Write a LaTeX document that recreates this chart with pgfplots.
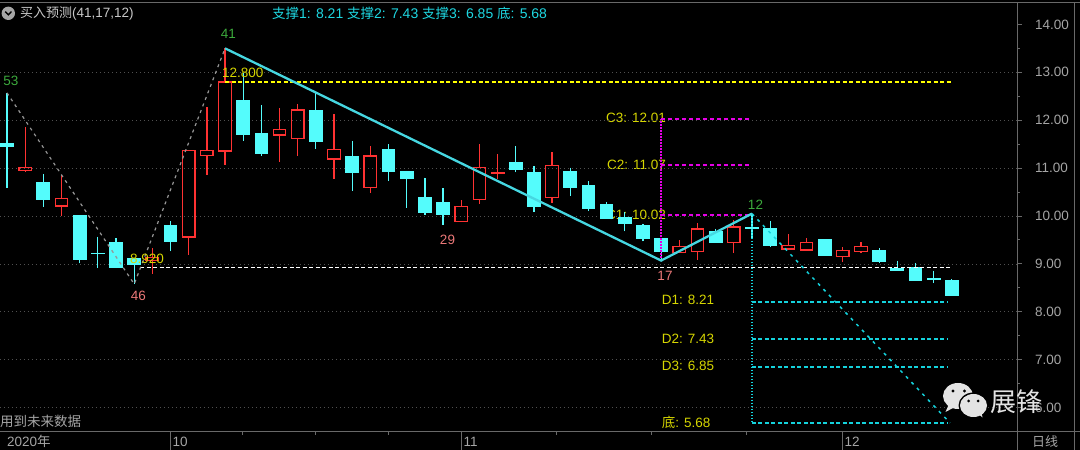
\documentclass[border=0pt]{standalone}
\usepackage{fontspec}
\setmainfont{Liberation Sans}
\newfontfamily\cjk{Noto Sans CJK SC}
\usepackage{pgfplots}
\pgfplotsset{compat=1.18}
\usepgfplotslibrary{statistics}
\definecolor{candC}{RGB}{84,252,252}
\definecolor{candR}{RGB}{255,50,50}
\definecolor{zz}{RGB}{70,215,225}
\definecolor{lblY}{RGB}{214,214,0}
\definecolor{lineY}{RGB}{255,255,0}
\definecolor{mag}{RGB}{230,0,230}
\definecolor{cyD}{RGB}{20,210,220}
\definecolor{grayZ}{RGB}{150,150,150}
\definecolor{gridG}{RGB}{80,80,80}
\definecolor{axisG}{RGB}{105,105,105}
\definecolor{tickT}{RGB}{165,165,165}
\definecolor{grn}{RGB}{60,170,60}
\definecolor{sal}{RGB}{235,120,120}
\definecolor{titleT}{RGB}{200,200,200}
\definecolor{topC}{RGB}{30,215,225}
\definecolor{wm}{RGB}{228,228,228}
\newcommand\fs[1]{\fontsize{#1}{#1}\selectfont}
% i, open, high, low, close
\newcommand\dn[5]{\addplot[candC, fill=candC, line width=1.2pt, boxplot prepared={draw direction=y, draw position=#1, lower whisker=#4, lower quartile=#5, median=#5, upper quartile=#2, upper whisker=#3}] coordinates {};}
\newcommand\up[5]{\addplot[candR, fill=none, line width=1.3pt, boxplot prepared={draw direction=y, draw position=#1, lower whisker=#4, lower quartile=#2, median=#2, upper quartile=#5, upper whisker=#3}] coordinates {};}
\begin{document}
\begin{tikzpicture}
\fill[black] (-2pt,-20pt) rectangle (1082pt,434pt);
\begin{scope}[x=1pt,y=-1pt,shift={(0pt,431.7pt)}]
  \tikzset{lb/.style={inner sep=0pt, font=\fs{13.5}}}
  \node[lb, text=grn] at (11,80.7) {53};
  \node[lb, text=grn] at (228.5,33.5) {41};
  \node[lb, text=grn] at (755.5,205) {12};
  \node[lb, text=sal] at (138.5,296) {46};
  \node[lb, text=sal] at (447.5,240) {29};
  \node[lb, text=sal] at (665,275.5) {17};
  \node[lb, text=lblY, anchor=east] at (666,118.3) {C3: 12.01};
  \node[lb, text=lblY, anchor=east] at (666,165) {C2: 11.07};
  \node[lb, text=lblY, anchor=east] at (666,214.5) {C1: 10.02};
  \node[lb, text=lblY, anchor=west] at (661.7,300) {D1: 8.21};
  \node[lb, text=lblY, anchor=west] at (661.7,339) {D2: 7.43};
  \node[lb, text=lblY, anchor=west] at (661.7,366) {D3: 6.85};
  \node[lb, text=lblY, anchor=west] at (661.7,422.7) {{\cjk 底}: 5.68};
\end{scope}
\begin{axis}[
  scale only axis, width=1017pt, height=429pt,
  xmin=-0.385, xmax=55.586, ymin=5.497, ymax=14.453,
  axis line style={draw=none},
  tick align=outside,
  xtick=\empty,
  ytick pos=right, yticklabel pos=right,
  ytick={6,7,8,9,10,11,12,13}, extra y ticks={14}, extra y tick style={grid=none},
  minor ytick={6.5,7.5,8.5,9.5,10.5,11.5,12.5,13.5},
  major tick length=5pt, minor tick length=3pt,
  tick style={axisG, line width=1pt},
  ymajorgrids,
  major grid style={gridG, line width=0.8pt, dash pattern=on 1pt off 3pt},
  /pgf/number format/fixed, /pgf/number format/fixed zerofill,
  /pgf/number format/precision=2, /pgf/number format/assume math mode=true,
  yticklabel style={font=\fs{13.5}, text=tickT, anchor=west, inner sep=0pt, xshift=13pt},
  boxplot/draw direction=y,
  boxplot/box extend=0.69, boxplot/whisker extend=0,
]
\dn{0}{11.51}{12.57}{10.59}{11.46}
\up{1}{10.95}{11.85}{10.91}{11.01}
\dn{2}{10.70}{10.88}{10.19}{10.35}
\up{3}{10.21}{10.85}{10.00}{10.36}
\dn{4}{10.01}{10.01}{9.01}{9.10}
\dn{5}{9.22}{9.57}{8.91}{9.21}
\dn{6}{9.45}{9.54}{8.91}{8.93}
\dn{7}{9.11}{9.11}{8.58}{8.98}
\up{8}{9.07}{9.34}{8.79}{9.13}
\dn{9}{9.79}{9.89}{9.26}{9.48}
\up{10}{9.56}{11.37}{9.19}{11.37}
\up{11}{11.26}{12.27}{10.85}{11.37}
\up{12}{11.36}{13.50}{11.06}{12.80}
\dn{13}{12.41}{12.98}{11.57}{11.71}
\dn{14}{11.71}{12.32}{11.25}{11.30}
\up{15}{11.69}{12.25}{11.12}{11.81}
\up{16}{11.62}{12.34}{11.25}{12.21}
\dn{17}{12.19}{12.59}{11.40}{11.55}
\up{18}{11.19}{12.13}{10.78}{11.39}
\dn{19}{11.25}{11.57}{10.52}{10.91}
\up{20}{10.59}{11.46}{10.49}{11.25}
\dn{21}{11.39}{11.50}{10.73}{10.93}
\dn{22}{10.92}{10.94}{10.17}{10.78}
\dn{23}{10.39}{10.80}{10.03}{10.08}
\dn{24}{10.27}{10.58}{9.82}{10.04}
\up{25}{9.89}{10.33}{9.89}{10.20}
\up{26}{10.34}{11.50}{10.26}{11.01}
\up{27}{10.89}{11.29}{10.78}{10.91}
\dn{28}{11.12}{11.46}{10.91}{10.97}
\dn{29}{10.90}{11.04}{10.08}{10.21}
\up{30}{10.38}{11.34}{10.27}{11.06}
\dn{31}{10.92}{11.01}{10.42}{10.59}
\dn{32}{10.63}{10.73}{10.10}{10.15}
\dn{33}{10.24}{10.29}{9.96}{9.96}
\dn{34}{9.96}{10.08}{9.68}{9.85}
\dn{35}{9.79}{9.84}{9.47}{9.54}
\dn{36}{9.52}{9.52}{9.07}{9.26}
\up{37}{9.24}{9.50}{9.24}{9.36}
\up{38}{9.26}{9.86}{9.09}{9.73}
\dn{39}{9.68}{9.73}{9.45}{9.45}
\up{40}{9.45}{9.92}{9.23}{9.77}
\dn{41}{9.76}{10.05}{9.55}{9.75}
\dn{42}{9.73}{9.89}{9.36}{9.38}
\up{43}{9.31}{9.63}{9.31}{9.38}
\up{44}{9.29}{9.54}{9.29}{9.45}
\dn{45}{9.50}{9.50}{9.17}{9.17}
\up{46}{9.15}{9.36}{9.03}{9.28}
\up{47}{9.26}{9.45}{9.22}{9.36}
\dn{48}{9.28}{9.33}{9.03}{9.05}
\dn{49}{8.91}{9.07}{8.86}{8.86}
\dn{50}{8.92}{9.02}{8.66}{8.66}
\dn{51}{8.69}{8.86}{8.60}{8.68}
\dn{52}{8.66}{8.69}{8.33}{8.35}
% level lines
\addplot[lineY, line width=1.5pt, dash pattern=on 4pt off 2.5pt] coordinates {(12,12.80) (52,12.80)};
\addplot[white, line width=1.3pt, dash pattern=on 4pt off 2.5pt] coordinates {(7.32,8.92) (51.9,8.92)};
\addplot[mag, line width=1.6pt, dash pattern=on 4pt off 3pt] coordinates {(36,12.03) (41,12.03)};
\addplot[mag, line width=1.6pt, dash pattern=on 4pt off 3pt] coordinates {(36,11.07) (41,11.07)};
\addplot[mag, line width=1.6pt, dash pattern=on 4pt off 3pt] coordinates {(36,10.02) (41,10.02)};
\addplot[mag, line width=1.4pt, dash pattern=on 1.5pt off 1.5pt] coordinates {(36,9.07) (36,12.03)};
\addplot[cyD, line width=1.6pt, dash pattern=on 4pt off 2.5pt] coordinates {(41,8.21) (51.77,8.21)};
\addplot[cyD, line width=1.6pt, dash pattern=on 4pt off 2.5pt] coordinates {(41,7.43) (51.77,7.43)};
\addplot[cyD, line width=1.6pt, dash pattern=on 4pt off 2.5pt] coordinates {(41,6.85) (51.77,6.85)};
\addplot[cyD, line width=1.6pt, dash pattern=on 4pt off 2.5pt] coordinates {(41,5.68) (51.77,5.68)};
\addplot[cyD, line width=1.5pt, dash pattern=on 1.5pt off 1.5pt] coordinates {(41,10.05) (41,5.68)};
\addplot[cyD, line width=1.5pt, dash pattern=on 3pt off 5pt] coordinates {(41,10.05) (51.9,5.68)};
% zigzags
\addplot[grayZ, line width=1.2pt, dash pattern=on 3pt off 4pt] coordinates {(0,12.57) (7,8.58) (12,13.50)};
\addplot[zz, line width=2.3pt] coordinates {(12,13.50) (36,9.07) (41,10.05)};
\end{axis}
\begin{scope}[x=1pt,y=-1pt,shift={(0pt,431.7pt)}]
  \node[inner sep=0pt, font=\fs{13.5}, text=lblY, anchor=west] at (222,73.3) {12.800};
  \node[inner sep=0pt, font=\fs{13.5}, text=lblY, anchor=west] at (130,259.3) {8.920};
  % frame
  \draw[axisG, line width=1pt] (0,2.7) -- (1080,2.7);
  \draw[axisG, line width=1pt] (0,431.7) -- (1080,431.7);
  \draw[axisG, line width=1pt] (1017,2.7) -- (1017,450);
  \draw[axisG, line width=1pt] (1074,2.7) -- (1074,450);
  \foreach \xx in {170,461,842} \draw[axisG, line width=1pt] (\xx,431.7) -- (\xx,450);
  \foreach \xx in {242,315,388,556,651,746.7} \draw[axisG, line width=1pt] (\xx,431.7) -- (\xx,434.7);
  % date bar text
  \tikzset{db/.style={inner sep=0pt, anchor=west, text=tickT, font=\fs{13.5}}}
  \node[db] at (7,441.5) {2020{\cjk 年}};
  \node[db] at (172.5,441.5) {10};
  \node[db] at (463.5,441.5) {11};
  \node[db] at (844.5,441.5) {12};
  \node[db, font=\cjk\fs{13}] at (1032,441.5) {日线};
  \node[inner sep=0pt, anchor=west, text=tickT, font=\cjk\fs{13.5}] at (0,421.5) {用到未来数据};
  % title
  \fill[gray!70] (8.3,13.3) circle (6.7);
  \draw[black, line width=1.4pt] (5.2,11.6) -- (8.3,14.8) -- (11.4,11.6);
  \node[inner sep=0pt, anchor=west, text=titleT, font=\fs{13.5}] at (20,13.3) {{\cjk\fs{13}买入预测}(41,17,12)};
  \node[inner sep=0pt, anchor=west, text=topC, font=\fs{14}] at (272,13.3) {{\cjk\fs{13.5}支撑}1: 8.21 {\cjk\fs{13.5}支撑}2: 7.43 {\cjk\fs{13.5}支撑}3: 6.85 {\cjk\fs{13.5}底}: 5.68};
  % watermark
  \fill[wm] (958,396) ellipse (15 and 13);
  \fill[wm] (949,404) -- (953,408) -- (945.5,412) -- cycle;
  \fill[black] (973.5,405.5) ellipse (15 and 13);
  \fill[wm] (973.5,405.5) ellipse (13.5 and 11.5);
  \fill[wm] (976,412) -- (981,409) -- (982.5,417.5) -- cycle;
  \fill[black] (953,391) circle (1.7) (964.5,391) circle (1.7);
  \fill[black] (968.5,401) circle (1.5) (978,401) circle (1.5);
  \node[inner sep=0pt, anchor=west, text=wm, font=\cjk\fs{26}] at (990,402) {展锋};
\end{scope}
\pgfresetboundingbox
\path[use as bounding box] (0pt,-18.3pt) rectangle (1080pt,431.7pt);
\end{tikzpicture}
\end{document}
